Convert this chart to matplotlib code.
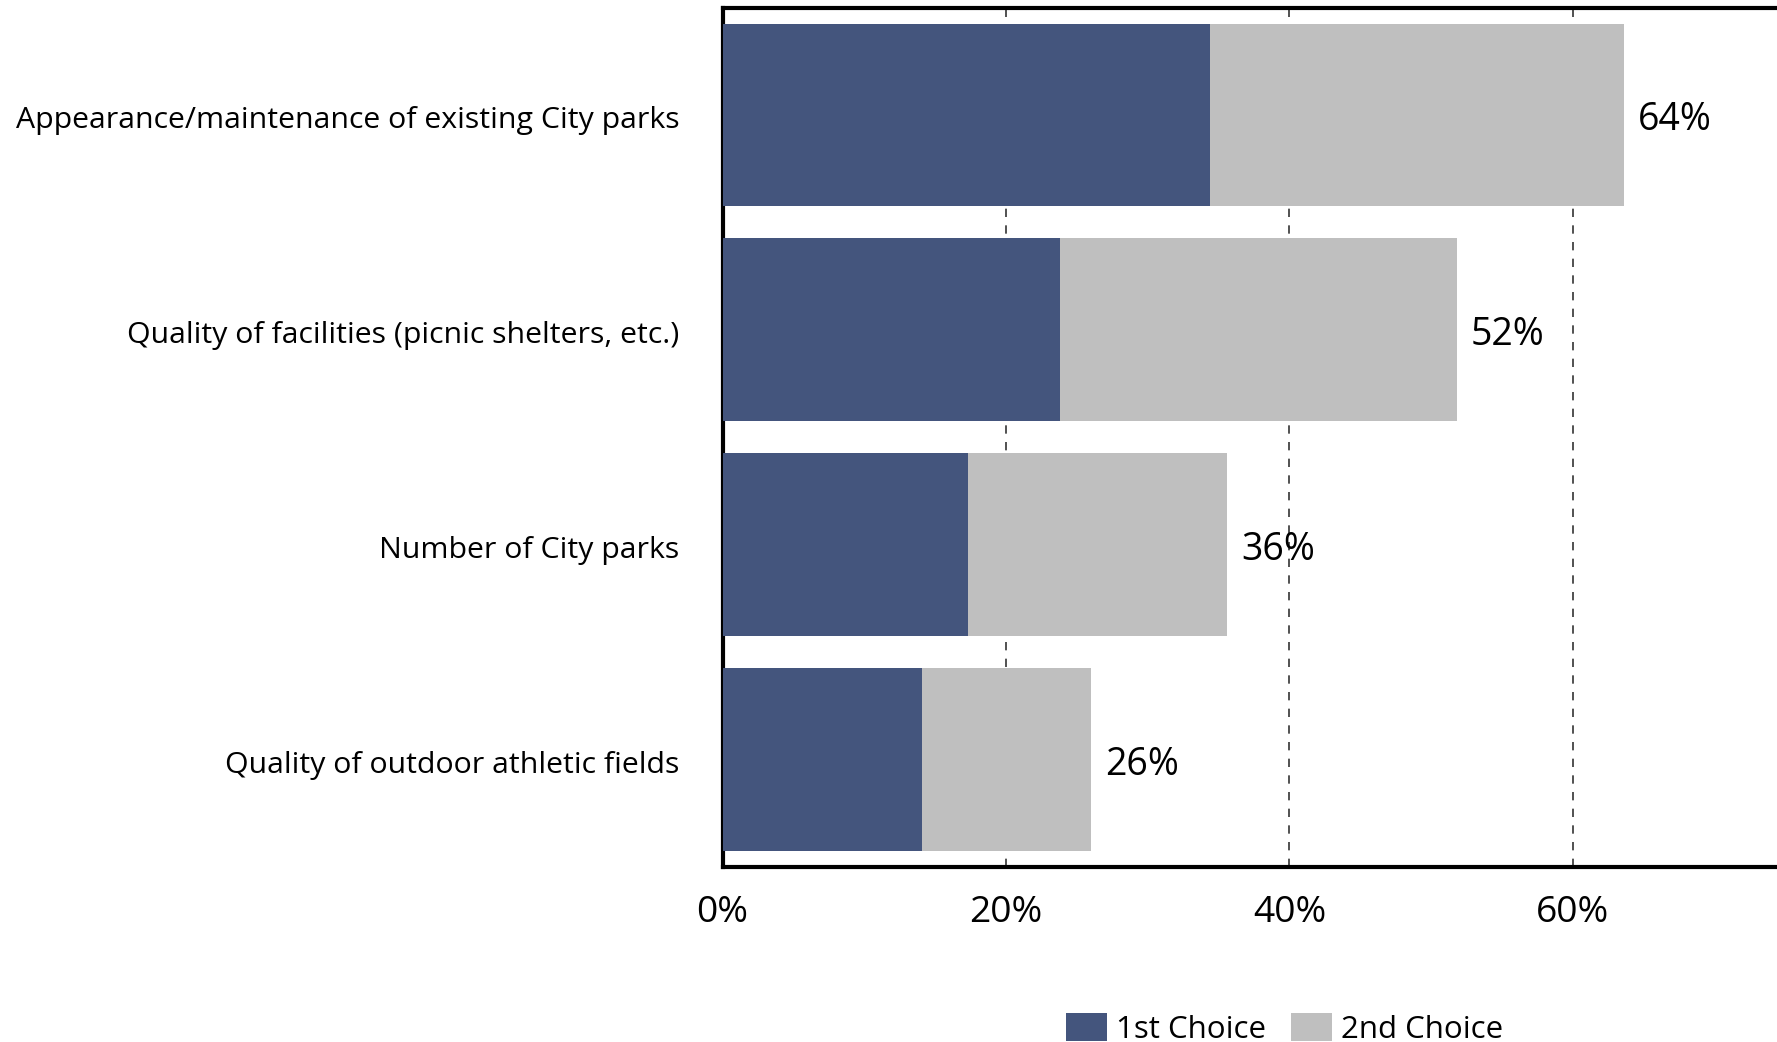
import matplotlib
matplotlib.use("Agg")
import matplotlib.pyplot as plt
from matplotlib.patches import Patch
from matplotlib.transforms import ScaledTranslation

categories = [
    "Appearance/maintenance of existing City parks",
    "Quality of facilities (picnic shelters, etc.)",
    "Number of City parks",
    "Quality of outdoor athletic fields",
]
first_choice = [34.4, 23.8, 17.3, 14.1]
second_choice = [29.2, 28.0, 18.3, 11.9]
total_labels = ["64%", "52%", "36%", "26%"]
xticks = [0, 20, 40, 60]
xtick_labels = ["0%", "20%", "40%", "60%"]
series_names = ["1st Choice", "2nd Choice"]

DARK = "#44557D"
GRAY = "#BFBFBF"

plt.rcParams['font.family'] = ['Open Sans', 'DejaVu Sans']

fig = plt.figure(figsize=(17.77, 10.42), dpi=100)
ax = fig.add_axes([0.4066, 0.168, 0.638, 0.8248])

y = list(range(len(categories)))
ax.barh(y, first_choice, height=0.85, color=DARK, zorder=3)
ax.barh(y, second_choice, left=first_choice, height=0.85, color=GRAY, zorder=3)

down = ScaledTranslation(0, -5 / 100, fig.dpi_scale_trans)
for yi, a, b, lab in zip(y, first_choice, second_choice, total_labels):
    ax.text(a + b + 1.0, yi, lab, va="center", ha="left", fontsize=27, zorder=4,
            transform=ax.transData + down)

ax.set_xlim(0, 80)
ax.set_ylim(3.5, -0.5)
ax.set_yticks(y)
ax.set_yticklabels(categories, fontsize=21.8)
ax.tick_params(axis="both", length=0)
ax.set_xticks(xticks)
ax.set_xticklabels(xtick_labels, fontsize=26.7)
ax.tick_params(axis="y", pad=31)
ax.tick_params(axis="x", pad=20)
for lbl in ax.get_yticklabels():
    lbl.set_transform(lbl.get_transform() + ScaledTranslation(0, -2 / 100, fig.dpi_scale_trans))

ax.grid(axis="x", linestyle=(0, (5, 5)), color="#333333", linewidth=1.2, zorder=0)
for s in ["left", "top", "bottom", "right"]:
    ax.spines[s].set_linewidth(3)
    ax.spines[s].set_color("black")

handles = [Patch(facecolor=DARK, label=series_names[0]),
           Patch(facecolor=GRAY, label=series_names[1])]
fig.legend(handles=handles, loc="center", bbox_to_anchor=(0.7229, 0.0125), ncol=2,
           frameon=False, fontsize=22.5, handlelength=1.3, handleheight=1.0,
           handletextpad=0.3, columnspacing=0.8, borderpad=0.0)

fig.savefig("out.png", dpi=100)
